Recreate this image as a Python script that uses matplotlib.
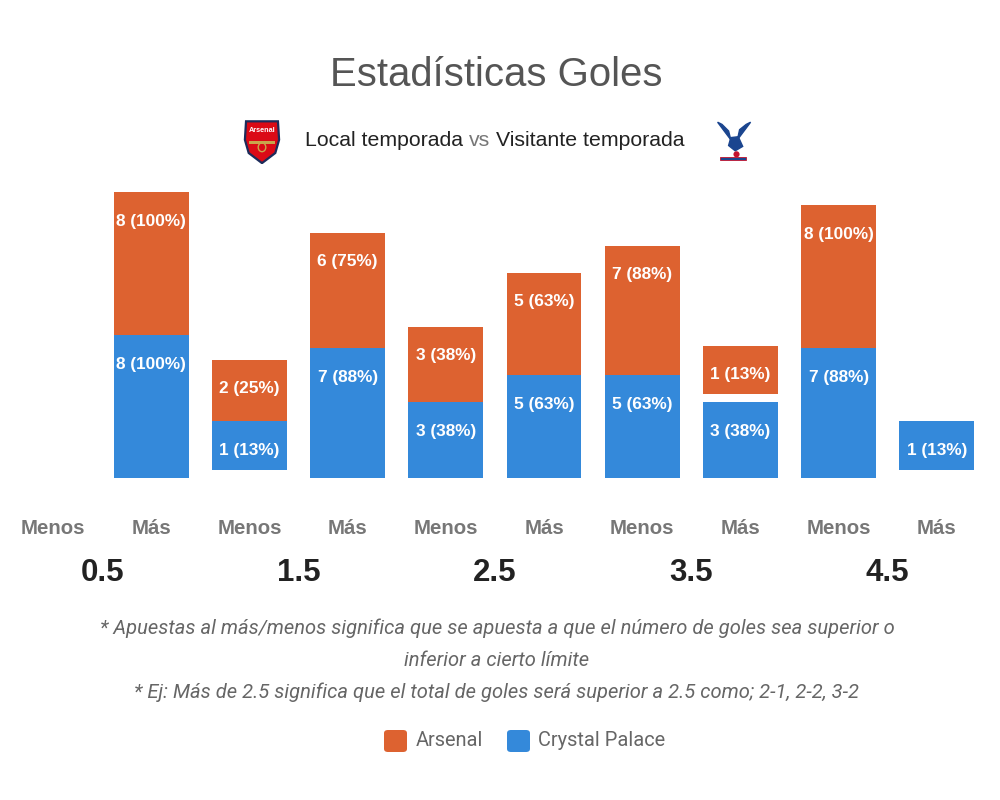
import matplotlib
matplotlib.use("Agg")
import matplotlib.pyplot as plt
from matplotlib.patches import Polygon, FancyBboxPatch, Circle, Rectangle
from matplotlib.transforms import blended_transform_factory

# ---------------- data ----------------
side_labels = ["Menos", "Más", "Menos", "Más", "Menos", "Más", "Menos", "Más", "Menos", "Más"]
line_labels = ["0.5", "1.5", "2.5", "3.5", "4.5"]
palace_count = [0, 8, 1, 7, 3, 5, 5, 3, 7, 1]
palace_pct = [0, 100, 13, 88, 38, 63, 63, 38, 88, 13]
arsenal_count = [0, 8, 2, 6, 3, 5, 7, 1, 8, 0]
arsenal_pct = [0, 100, 25, 75, 38, 63, 88, 13, 100, 0]
series_names = ["Arsenal", "Crystal Palace"]

title = "Estadísticas Goles"
subtitle_parts = ["Local temporada", "vs", "Visitante temporada"]
notes = [
    "* Apuestas al más/menos significa que se apuesta a que el número de goles sea superior o",
    "inferior a cierto límite",
    "* Ej: Más de 2.5 significa que el total de goles será superior a 2.5 como; 2-1, 2-2, 3-2",
]

# ---------------- style ----------------
ORANGE = "#DD6230"
BLUE = "#3489DA"
W, H = 1000, 800
BASE_H = 31.8      # minimum segment height (in pct units)
LIFT = 7.4         # margin added under single-goal segments
BAR_W = 0.76

fig = plt.figure(figsize=(10, 8), dpi=100)
fig.patch.set_facecolor("white")


def fx(x):
    return x / W


def fy(y):
    return 1 - y / H


ax = fig.add_axes([fx(3.9), fy(478), 982 / W, 325 / H])
ax.set_xlim(-0.5, 9.5)
ax.set_ylim(0, 300)
ax.axis("off")

bold = dict(family=["Liberation Sans", "DejaVu Sans"], weight="bold")

for i in range(len(side_labels)):
    bottom = 0.0
    for cnt, pct, col in ((palace_count[i], palace_pct[i], BLUE),
                          (arsenal_count[i], arsenal_pct[i], ORANGE)):
        if cnt == 0:
            continue
        if cnt == 1:
            bottom += LIFT
        h = pct + BASE_H
        ax.bar(i, h, bottom=bottom, width=BAR_W, color=col, linewidth=0)
        ax.annotate(f"{cnt} ({pct}%)", xy=(i, bottom + h), xytext=(0, -20.9),
                    textcoords="offset points", ha="center", va="center",
                    color="white", fontsize=12.4, **bold)
        bottom += h

# x category labels
tr = blended_transform_factory(ax.transData, fig.transFigure)
for i, lab in enumerate(side_labels):
    fig.text(i, fy(529), lab, transform=tr, ha="center", va="center",
             fontsize=14.7, color="#777777", **bold)
for k, lab in enumerate(line_labels):
    fig.text(2 * k + 0.5, fy(573), lab, transform=tr, ha="center", va="center",
             fontsize=22.5, color="#222222", **bold)

# title
fig.text(fx(496), fy(75), title, ha="center", va="center", fontsize=28.9,
         color="#555555", family=["Liberation Sans", "DejaVu Sans"])

# subtitle pieces laid out sequentially
renderer = fig.canvas.get_renderer()
x = 305.0
sub_colors = ["#222222", "#777777", "#222222"]
for part, c in zip(subtitle_parts, sub_colors):
    t = fig.text(fx(x), fy(140), part, ha="left", va="center", fontsize=15.3,
                 color=c, family=["Liberation Sans", "DejaVu Sans"])
    bb = t.get_window_extent(renderer)
    x += bb.width + 5.8

# notes
note_y = [628, 660, 692]
for txt, y in zip(notes, note_y):
    fig.text(fx(497), fy(y), txt, ha="center", va="center", fontsize=14.5,
             color="#666666", style="italic", family=["Roboto", "DejaVu Sans"])

# legend
leg_items = [(384, ORANGE, series_names[0], 416), (507, BLUE, series_names[1], 538)]
for x0, col, name, tx in leg_items:
    p = FancyBboxPatch((fx(x0), fy(752)), 23 / W, 22 / H,
                       boxstyle="round,pad=0.0,rounding_size=0.004",
                       transform=fig.transFigure, facecolor=col, edgecolor="none")
    fig.patches.append(p)
    fig.text(fx(tx), fy(741), name, ha="left", va="center", fontsize=14.4,
             color="#666666", family=["Roboto", "DejaVu Sans"])

# ---------------- logos (simplified) ----------------
# Arsenal crest
la = fig.add_axes([fx(243), fy(164), 38 / W, 44 / H])
la.set_xlim(0, 1)
la.set_ylim(0, 1)
la.axis("off")
shield = [(0.08, 0.97), (0.92, 0.97), (0.95, 0.55), (0.85, 0.25), (0.5, 0.02),
          (0.15, 0.25), (0.05, 0.55)]
la.add_patch(Polygon(shield, closed=True, facecolor="#DB0A16",
                     edgecolor="#1C2C5B", linewidth=1.6))
la.add_patch(Rectangle((0.15, 0.45), 0.7, 0.08, facecolor="#C9A54C", edgecolor="none"))
la.add_patch(Circle((0.5, 0.38), 0.1, facecolor="none", edgecolor="#C9A54C", linewidth=1))
la.text(0.5, 0.76, "Arsenal", ha="center", va="center", fontsize=5.2,
        color="white", weight="bold", family=["Liberation Sans", "DejaVu Sans"])

# Crystal Palace emblem
lc = fig.add_axes([fx(711), fy(164), 44 / W, 44 / H])
lc.set_xlim(0, 1)
lc.set_ylim(0, 1)
lc.axis("off")
wing_l = [(0.15, 0.95), (0.45, 0.55), (0.4, 0.75), (0.25, 0.9)]
wing_r = [(0.9, 0.95), (0.6, 0.55), (0.65, 0.78), (0.8, 0.9)]
body = [(0.45, 0.6), (0.62, 0.62), (0.72, 0.4), (0.55, 0.3), (0.4, 0.42)]
for poly in (wing_l, wing_r, body):
    lc.add_patch(Polygon(poly, closed=True, facecolor="#1B458F", edgecolor="#1B458F"))
lc.add_patch(Circle((0.58, 0.22), 0.07, facecolor="#C4122E", edgecolor="none"))
lc.add_patch(Rectangle((0.2, 0.08), 0.6, 0.08, facecolor="#1B458F", edgecolor="#C4122E",
                       linewidth=0.6))

fig.savefig("out.png", dpi=100, facecolor="white")
